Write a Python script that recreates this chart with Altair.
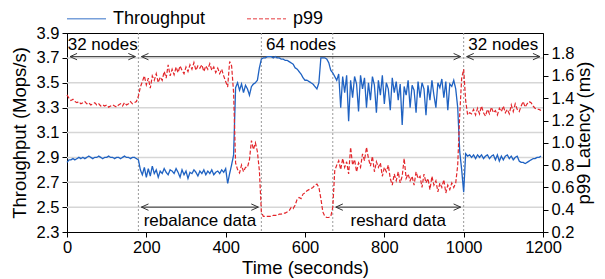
import altair as alt
import pandas as pd

FONT = "Liberation Sans"

# ---------------- data ----------------
times = list(range(0, 1200, 5))

tp_32a = [2.86, 2.88, 2.88, 2.89, 2.88, 2.89, 2.90, 2.89, 2.90, 2.89,
          2.90, 2.91, 2.90, 2.89, 2.90, 2.90, 2.91, 2.90, 2.89, 2.90,
          2.90, 2.91, 2.90, 2.90, 2.89, 2.90, 2.90, 2.89, 2.90, 2.91,
          2.90, 2.90, 2.89, 2.90, 2.90, 2.89]
tp_rebalance = [2.88, 2.80, 2.76, 2.82, 2.74, 2.81, 2.75, 2.83, 2.77, 2.80,
                2.74, 2.79, 2.77, 2.81, 2.78, 2.76, 2.80, 2.79, 2.77, 2.81,
                2.78, 2.74, 2.80, 2.76, 2.79, 2.73, 2.78, 2.77, 2.80, 2.78,
                2.75, 2.79, 2.77, 2.80, 2.76, 2.79, 2.77, 2.80, 2.76, 2.78,
                2.79, 2.77, 2.80, 2.78, 2.81, 2.69, 2.77, 2.84]
tp_jump = [2.92, 3.46, 3.50, 3.44, 3.49, 3.42, 3.48, 3.45, 3.40, 3.47,
           3.49, 3.50, 3.52, 3.62, 3.69]
tp_64 = [3.70, 3.70, 3.71, 3.71, 3.71, 3.70, 3.71, 3.70, 3.70, 3.69,
         3.69, 3.68, 3.68, 3.67, 3.66, 3.65, 3.62, 3.61, 3.59, 3.57,
         3.54, 3.52, 3.52, 3.51, 3.50, 3.49, 3.47, 3.45, 3.50, 3.70,
         3.70, 3.70, 3.69, 3.66, 3.60, 3.58]
tp_reshard = [3.55, 3.52, 3.57, 3.30, 3.55, 3.42, 3.56, 3.19, 3.52, 3.38,
              3.55, 3.49, 3.27, 3.56, 3.45, 3.54, 3.30, 3.50, 3.36, 3.55,
              3.48, 3.26, 3.52, 3.40, 3.56, 3.33, 3.50, 3.45, 3.28, 3.54,
              3.42, 3.51, 3.36, 3.49, 3.16, 3.47, 3.40, 3.52, 3.30, 3.48,
              3.44, 3.26, 3.51, 3.38, 3.50, 3.45, 3.24, 3.48, 3.36, 3.52,
              3.40, 3.30, 3.50, 3.46, 3.53, 3.38, 3.51, 3.28, 3.49, 3.47,
              3.52, 3.45, 3.30, 2.95, 2.80, 2.62]
tp_32b = [2.93, 2.91, 2.92, 2.90, 2.92, 2.89, 2.92, 2.90, 2.92, 2.89,
          2.91, 2.92, 2.89, 2.91, 2.92, 2.88, 2.92, 2.87, 2.91, 2.88,
          2.91, 2.92, 2.89, 2.91, 2.88, 2.90, 2.91, 2.87, 2.86, 2.86,
          2.85, 2.86, 2.87, 2.88, 2.89, 2.89, 2.90, 2.90, 2.91]

p99_32a = [1.43, 1.40, 1.38, 1.39, 1.37, 1.36, 1.37, 1.35, 1.36, 1.37,
           1.35, 1.36, 1.34, 1.35, 1.36, 1.34, 1.35, 1.33, 1.34, 1.33,
           1.34, 1.32, 1.33, 1.34, 1.33, 1.32, 1.34, 1.35, 1.33, 1.36,
           1.34, 1.35, 1.37, 1.35, 1.36, 1.37]
p99_rebalance = [1.42, 1.50, 1.55, 1.60, 1.52, 1.58, 1.49, 1.60, 1.56, 1.62,
                 1.54, 1.59, 1.56, 1.64, 1.58, 1.70, 1.60, 1.66, 1.61, 1.68,
                 1.63, 1.69, 1.65, 1.62, 1.68, 1.64, 1.70, 1.66, 1.72, 1.65,
                 1.69, 1.67, 1.70, 1.64, 1.69, 1.66, 1.71, 1.65, 1.68, 1.63,
                 1.67, 1.62, 1.66, 1.60, 1.55, 1.50, 1.73, 1.69]
p99_jump = [1.45, 0.82, 0.76, 0.73, 0.80, 0.74, 0.78, 0.78, 0.85, 1.02,
            0.94, 1.00, 0.92, 0.75, 0.38]
p99_64 = [0.34, 0.34, 0.34, 0.34, 0.34, 0.35, 0.35, 0.35, 0.36, 0.36,
          0.37, 0.37, 0.38, 0.39, 0.42, 0.41, 0.44, 0.49, 0.51, 0.50,
          0.54, 0.55, 0.57, 0.58, 0.59, 0.60, 0.62, 0.63, 0.60, 0.50,
          0.38, 0.34, 0.33, 0.33, 0.34, 0.42]
p99_reshard = [0.75, 0.80, 0.84, 0.76, 0.86, 0.78, 0.83, 0.72, 0.96, 0.80,
               0.85, 0.74, 0.82, 0.78, 0.90, 0.84, 0.96, 0.86, 0.79, 0.88,
               0.74, 0.83, 0.78, 0.82, 0.70, 0.78, 0.74, 0.80, 0.68, 0.62,
               0.72, 0.66, 0.74, 0.64, 0.70, 0.86, 0.68, 0.72, 0.66, 0.70,
               0.62, 0.74, 0.68, 0.70, 0.60, 0.72, 0.64, 0.68, 0.58, 0.70,
               0.62, 0.66, 0.56, 0.64, 0.60, 0.67, 0.55, 0.62, 0.58, 0.64,
               0.60, 0.64, 0.80, 1.25, 1.58, 1.66]
p99_32b = [1.38, 1.25, 1.27, 1.26, 1.30, 1.25, 1.31, 1.26, 1.33, 1.27,
           1.24, 1.30, 1.26, 1.32, 1.27, 1.29, 1.25, 1.31, 1.28, 1.33,
           1.27, 1.30, 1.26, 1.34, 1.28, 1.35, 1.30, 1.28, 1.33, 1.37,
           1.32, 1.35, 1.37, 1.36, 1.33, 1.31, 1.30, 1.30, 1.29]

throughput = tp_32a + tp_rebalance + tp_jump + tp_64 + tp_reshard + tp_32b
p99 = p99_32a + p99_rebalance + p99_jump + p99_64 + p99_reshard + p99_32b
assert len(throughput) == len(times) == len(p99)

series_names = ["Throughput", "p99"]
series_colors = ["#1f62c2", "#e3262b"]

x_ticks = [0, 200, 400, 600, 800, 1000, 1200]
left_ticks = [2.3, 2.5, 2.7, 2.9, 3.1, 3.3, 3.5, 3.7, 3.9]
right_ticks = [0.2, 0.4, 0.6, 0.8, 1.0, 1.2, 1.4, 1.6, 1.8]
grid_vals = [2.5, 2.7, 2.9, 3.1, 3.3, 3.5, 3.7]
phase_lines = [180, 490, 670, 1000]

top_start = [0, 180, 1000]
top_end = [180, 1000, 1200]
top_labels = ["32 nodes", "64 nodes", "32 nodes"]
bot_start = [180, 670]
bot_end = [490, 1000]
bot_labels = ["rebalance data", "reshard data"]
TOP_ARROW_Y, TOP_TEXT_Y = 3.71, 3.80
BOT_ARROW_Y, BOT_TEXT_Y = 2.50, 2.39

# ---------------- tables ----------------
df = pd.DataFrame({
    "t": times + times,
    "value": throughput + p99,
    "series": ["Throughput"] * len(times) + ["p99"] * len(times),
})
arrows = pd.DataFrame({
    "start": top_start + bot_start,
    "end": top_end + bot_end,
    "y": [TOP_ARROW_Y] * 3 + [BOT_ARROW_Y] * 2,
})
labels = pd.DataFrame({
    "x": [(a + b) / 2 for a, b in zip(top_start + bot_start, top_end + bot_end)],
    "y": [TOP_TEXT_Y] * 3 + [BOT_TEXT_Y] * 2,
    "label": top_labels + bot_labels,
})
grid_df = pd.DataFrame({"y": grid_vals})
phase_df = pd.DataFrame({"x": phase_lines})

# ---------------- scales / encodings ----------------
x_scale = alt.Scale(domain=[0, 1200], nice=False)
x_axis = alt.Axis(values=x_ticks, format="d", title="Time (seconds)", labelFlush=False,
                  labelPadding=2, titlePadding=3)
left_domain = alt.Scale(domain=[2.3, 3.9], nice=False, zero=False)


def xenc(field):
    return alt.X(field, type="quantitative", scale=x_scale, axis=x_axis)


legend = alt.Legend(title=None, orient="none", legendX=-1, legendY=-35,
                    direction="horizontal", symbolType="stroke",
                    symbolSize=1521, symbolStrokeWidth=1.5, symbolOpacity=0.6,
                    labelFontSize=18, labelFont=FONT, labelColor="black",
                    labelOffset=6, columnPadding=38, padding=0)
color_enc = alt.Color("series:N", scale=alt.Scale(domain=series_names, range=series_colors),
                      legend=legend)
dash_enc = alt.StrokeDash("series:N", scale=alt.Scale(domain=series_names, range=[[1, 0], [4, 2]]),
                          legend=legend)

grid_layer = alt.Chart(grid_df).mark_rule(color="#d6d6d6", strokeWidth=1.5).encode(
    y=alt.Y("y:Q", scale=left_domain, axis=None))

phase_layer = alt.Chart(phase_df).mark_rule(color="#9a9a9a", strokeWidth=1, strokeDash=[2, 2]).encode(
    x=xenc("x"))

arrow_lines = alt.Chart(arrows).mark_rule(color="#333333", strokeWidth=1, xOffset=3, x2Offset=-3).encode(
    x=xenc("start"), x2="end:Q",
    y=alt.Y("y:Q", scale=left_domain, axis=None))
arrow_left = alt.Chart(arrows).mark_point(shape="M0,0L1,-0.45M0,0L1,0.45", filled=False, size=200,
                                          strokeWidth=1, color="#333333", opacity=1, xOffset=3).encode(
    x=xenc("start"),
    y=alt.Y("y:Q", scale=left_domain, axis=None))
arrow_right = alt.Chart(arrows).mark_point(shape="M0,0L-1,-0.45M0,0L-1,0.45", filled=False, size=200,
                                           strokeWidth=1, color="#333333", opacity=1, xOffset=-3).encode(
    x=xenc("end"),
    y=alt.Y("y:Q", scale=left_domain, axis=None))
text_layer = alt.Chart(labels).mark_text(font=FONT, fontSize=17, color="black", baseline="middle").encode(
    x=xenc("x"),
    y=alt.Y("y:Q", scale=left_domain, axis=None),
    text="label:N")

blue = alt.Chart(df).transform_filter(alt.datum.series == "Throughput").mark_line(strokeWidth=1.3).encode(
    x=xenc("t"),
    y=alt.Y("value:Q", scale=left_domain,
            axis=alt.Axis(orient="left", values=left_ticks, format=".1f",
                          title="Throughput (Mops/s)", labelPadding=3, titlePadding=7)),
    color=color_enc, strokeDash=dash_enc)

red = alt.Chart(df).transform_filter(alt.datum.series == "p99").mark_line(strokeWidth=1.2).encode(
    x=xenc("t"),
    y=alt.Y("value:Q", scale=alt.Scale(domain=[0.2, 1.985], nice=False, zero=False),
            axis=alt.Axis(orient="right", values=right_ticks, format=".1f",
                          title="p99 Latency (ms)", titleAngle=270, titleBaseline="top",
                          labelPadding=3, titlePadding=1)),
    color=color_enc, strokeDash=dash_enc)

chart = alt.layer(
    grid_layer, phase_layer, arrow_lines, arrow_left, arrow_right, text_layer, blue, red
).resolve_scale(y="independent").properties(
    width=476, height=199,
    autosize=alt.AutoSizeParams(type="none"),
    padding={"left": 59, "top": 25, "right": 54, "bottom": 47},
).configure_view(stroke="black", strokeWidth=1).configure_axis(
    labelFont=FONT, titleFont=FONT, labelFontSize=16.5, titleFontSize=18.5,
    titleFontWeight="normal", labelColor="black", titleColor="black",
    domainColor="black", tickColor="black", tickSize=5, grid=False,
)

chart.save("out.html", embed_options={"renderer": "svg", "actions": False})
